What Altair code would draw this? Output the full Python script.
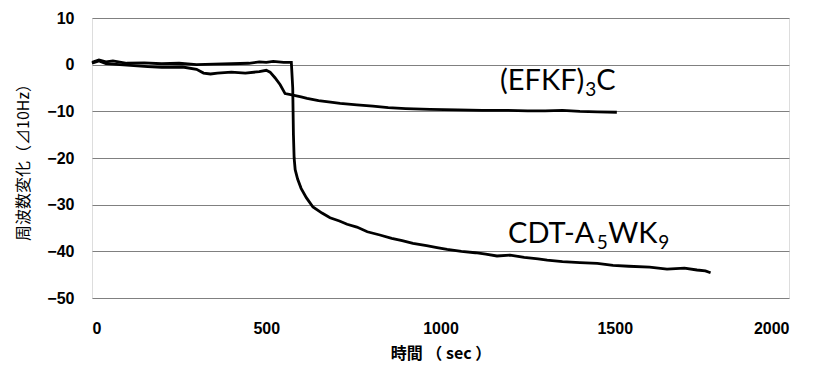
import altair as alt
import pandas as pd

# --- data ---
cdt_t = [0, 20, 40, 60, 100, 150, 200, 250, 300, 350, 400, 450, 480, 500, 520, 550, 572,
         576, 578, 580, 583, 590, 600, 615, 634, 660, 683, 710, 732, 760, 790, 826, 860,
         890, 921, 960, 990, 1019, 1060, 1100, 1130, 1162, 1200, 1240, 1280, 1306, 1350,
         1400, 1450, 1495, 1540, 1600, 1650, 1700, 1736, 1760, 1775]
cdt_v = [0.5, 1.0, 0.6, 0.8, 0.3, 0.4, 0.2, 0.3, 0.0, 0.1, 0.2, 0.3, 0.6, 0.5, 0.7, 0.5, 0.5,
         -5.0, -15.0, -20.0, -22.5, -24.5, -26.5, -28.5, -30.5, -31.8, -32.8, -33.5, -34.2,
         -34.8, -35.8, -36.5, -37.2, -37.7, -38.3, -38.8, -39.2, -39.6, -40.0, -40.3, -40.6,
         -41.0, -40.8, -41.3, -41.6, -41.9, -42.2, -42.4, -42.6, -43.0, -43.2, -43.4, -43.8,
         -43.6, -44.0, -44.2, -44.6]

efkf_t = [0, 20, 40, 80, 120, 160, 200, 260, 300, 320, 340, 360, 400, 440, 480, 500, 511,
          525, 540, 554, 570, 600, 617, 650, 690, 712, 760, 806, 850, 900, 970, 1050, 1120,
          1191, 1250, 1300, 1350, 1400, 1450, 1506]
efkf_v = [0.3, 0.8, 0.2, 0.0, -0.2, -0.4, -0.6, -0.5, -1.0, -1.8, -2.0, -1.8, -1.6, -1.8,
          -1.5, -1.2, -1.6, -2.8, -4.3, -6.2, -6.4, -6.9, -7.2, -7.7, -8.1, -8.3, -8.6, -8.9,
          -9.2, -9.4, -9.6, -9.7, -9.8, -9.8, -9.9, -9.9, -9.8, -10.0, -10.1, -10.2]

# label pieces: text, x (sec), y (value), size role
lab_text = ["(EFKF)", "3", "C", "CDT-A", "5", "WK", "9"]
lab_t = [1171, 1415, 1447, 1194, 1448, 1481, 1625]
lab_v = [-5.5, -6.8, -5.5, -38.3, -39.6, -38.3, -39.6]
lab_role = ["main", "sub", "main", "main", "sub", "main", "sub"]

x_ticks = [0, 500, 1000, 1500, 2000]
y_ticks = [-50, -40, -30, -20, -10, 0, 10]

df = pd.concat([
    pd.DataFrame({"t": cdt_t, "v": cdt_v, "s": "CDT-A5WK9"}),
    pd.DataFrame({"t": efkf_t, "v": efkf_v, "s": "(EFKF)3C"}),
])
labels = pd.DataFrame({"text": lab_text, "t": lab_t, "v": lab_v, "role": lab_role})

tick_font = "Liberation Sans"
title_font = "Noto Sans CJK JP"

x = alt.X("t:Q", scale=alt.Scale(domain=[0, 2000], nice=False),
          axis=alt.Axis(values=x_ticks, format="d", title="時間 （ sec ）", grid=False,
                        ticks=False, domain=False, labelFontSize=16, labelFontWeight="bold",
                        labelFont=tick_font, labelColor="black", labelPadding=22,
                        titleFont=title_font, titleFontSize=16, titleFontWeight="bold",
                        titleColor="black", titleY=55, titleBaseline="middle"))
y = alt.Y("v:Q", scale=alt.Scale(domain=[-50, 10], nice=False),
          axis=alt.Axis(values=y_ticks, format="d", title="周波数変化（⊿10Hz）", grid=True,
                        gridColor="#808080", gridWidth=1, ticks=False, domain=False,
                        labelFontSize=16, labelFontWeight="bold", labelFont=tick_font,
                        labelColor="black", labelPadding=18,
                        titleFont=title_font, titleFontSize=16, titleFontWeight="normal",
                        titleColor="black", titleX=-69, titleY=140,
                        titleAlign="center", titleBaseline="middle"))

lines = alt.Chart(df).mark_line(color="black", strokeWidth=2.8, interpolate="linear").encode(
    x=x, y=y, detail="s:N")

main_lab = alt.Chart(labels[labels.role == "main"]).mark_text(
    align="left", baseline="alphabetic", font="Lato", fontSize=29, color="black").encode(
    x="t:Q", y="v:Q", text="text:N")
sub_lab = alt.Chart(labels[labels.role == "sub"]).mark_text(
    align="left", baseline="alphabetic", font="Lato", fontSize=19, color="black").encode(
    x="t:Q", y="v:Q", text="text:N")

chart = alt.layer(lines, main_lab, sub_lab).properties(
    width=697, height=280,
    autosize=alt.AutoSizeParams(type="none"),
    padding={"left": 84, "top": 10, "right": 10, "bottom": 76},
).configure_view(stroke="black", strokeWidth=2).configure(background="white")

chart.save("out.html", embed_options={"renderer": "svg", "actions": False})
